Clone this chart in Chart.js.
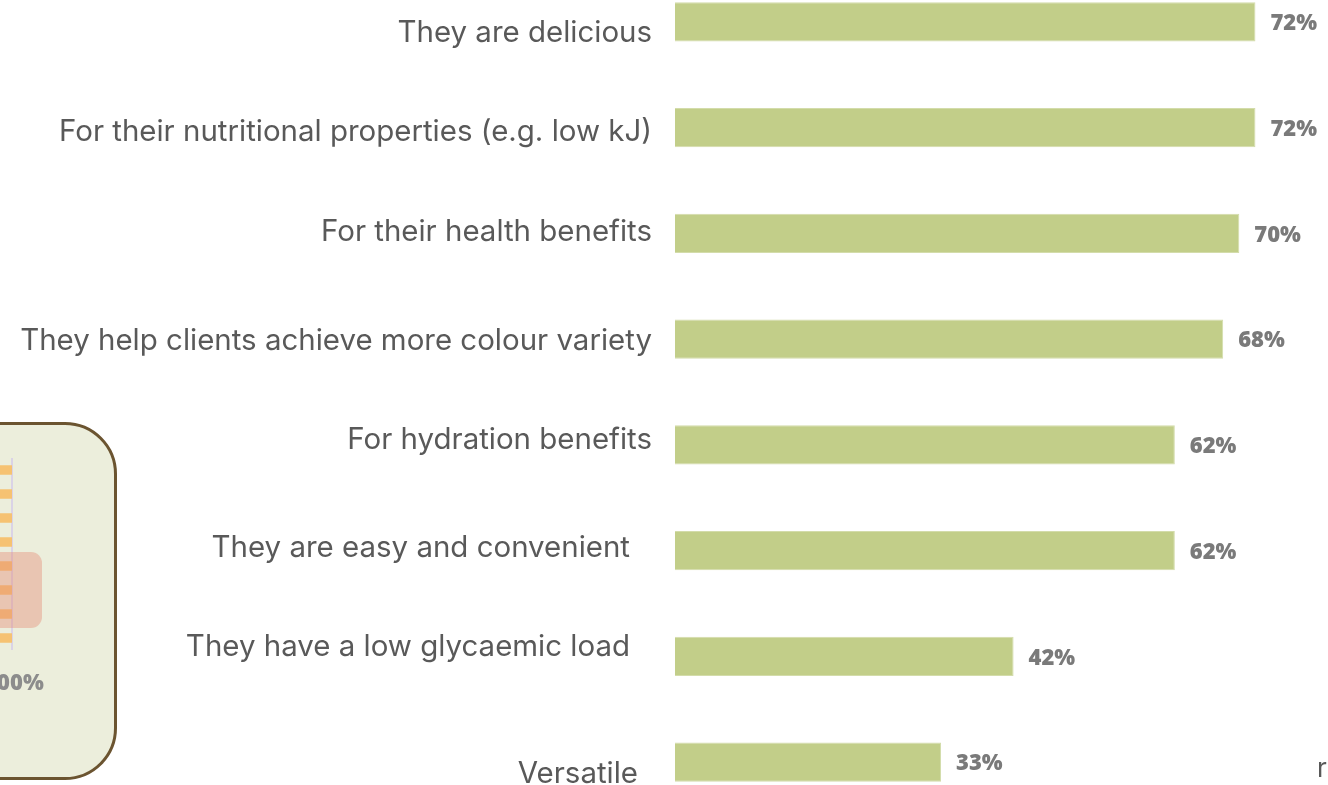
<!DOCTYPE html>
<html>
<head>
<meta charset="utf-8">
<script src="https://cdn.jsdelivr.net/npm/chart.js@4.4.1/dist/chart.umd.min.js"></script>
<style>
  html, body { margin: 0; padding: 0; width: 1328px; height: 785px; overflow: hidden; background: #fff; }
  #card {
    position: absolute; left: -60px; top: 422px; width: 171px; height: 352px;
    background: #ECEEDC; border: 3px solid #6B5430; border-radius: 52px;
  }
  #miniWrap { position: absolute; left: -220px; top: 440px; width: 280px; height: 270px; }
  #mainWrap { position: absolute; left: 0; top: -31px; width: 1328px; height: 846px; }
  #tail {
    position: absolute; left: 1317px; top: 752px;
    font: 400 26px Inter, sans-serif; color: #595959;
  }
</style>
</head>
<body>
<div id="card"></div>
<div id="miniWrap"><canvas id="miniChart"></canvas></div>
<div id="mainWrap"><canvas id="mainChart"></canvas></div>
<div id="tail">r</div>
<script>
// reasons given, % of respondents
const reasons = [
    'They are delicious',
    'For their nutritional properties (e.g. low kJ)',
    'For their health benefits',
    'They help clients achieve more colour variety',
    'For hydration benefits',
    'They are easy and convenient',
    'They have a low glycaemic load',
    'Versatile'
];
const shares = [72, 72, 70, 68, 62, 62, 42, 33];

// small stacked chart peeking out of the card on the left
const miniRows = ['1', '2', '3', '4', '5', '6', '7', '8'];
const miniTotals = [100, 100, 100, 100, 100, 100, 100, 100];
const miniTick = 100;

// label nudges (dx, dy) so the text sits like the original layout
const labelNudge = [[0, 8], [0, 1], [0, -4], [0, -1], [0, -8], [-22, -6], [-22, -12], [-14, 9]];

const labelColor = '#595959';
const valueColor = '#7A7A7A';

// fit the category font so the longest label spans ~632px
const probe = document.createElement('canvas').getContext('2d');
probe.font = '400 100px Inter';
const labelSize = 100 * 632 / probe.measureText(reasons[3]).width;

const categoryLabels = {
    id: 'categoryLabels',
    afterDraw(chart) {
        const { ctx, chartArea, scales: { y } } = chart;
        ctx.save();
        ctx.font = `400 ${labelSize}px Inter`;
        ctx.fillStyle = labelColor;
        ctx.textAlign = 'right';
        ctx.textBaseline = 'alphabetic';
        reasons.forEach((r, i) => {
            const [dx, dy] = labelNudge[i];
            ctx.fillText(r, chartArea.left - 23 + dx, y.getPixelForValue(i) + dy + 12);
        });
        ctx.restore();
    }
};

const valueLabels = {
    id: 'valueLabels',
    afterDatasetsDraw(chart) {
        const { ctx } = chart;
        const meta = chart.getDatasetMeta(0);
        ctx.save();
        ctx.font = '800 22px "Open Sans"';
        ctx.fillStyle = valueColor;
        ctx.textAlign = 'left';
        ctx.textBaseline = 'middle';
        meta.data.forEach((bar, i) => {
            ctx.fillText(shares[i] + '%', bar.x + 15, bar.y + 2);
        });
        ctx.restore();
    }
};

new Chart(document.getElementById('mainChart'), {
    type: 'bar',
    data: {
        labels: reasons,
        datasets: [{
            data: shares,
            backgroundColor: '#C2CE89',
            borderColor: '#D3DCAA',
            borderWidth: 1,
            borderSkipped: 'left',
            barPercentage: 0.37,
            categoryPercentage: 1
        }]
    },
    options: {
        indexAxis: 'y',
        animation: false,
        responsive: true,
        maintainAspectRatio: false,
        layout: { padding: { left: 675, right: 0, top: 0, bottom: 0 } },
        plugins: { legend: { display: false }, tooltip: { enabled: false } },
        scales: {
            x: { display: false, min: 0, max: 81 },
            y: { display: false }
        }
    },
    plugins: [categoryLabels, valueLabels]
});

const miniDecor = {
    id: 'miniDecor',
    afterDatasetsDraw(chart) {
        const { ctx, chartArea, scales: { x, y } } = chart;
        const right = x.getPixelForValue(miniTick);
        ctx.save();
        // highlight box over rows 5-7
        const top = y.getPixelForValue(4) - 14;
        const bottom = y.getPixelForValue(6) + 14;
        ctx.fillStyle = 'rgba(228, 140, 118, 0.42)';
        ctx.beginPath();
        ctx.roundRect(right - 120, top, 150, bottom - top, 11);
        ctx.fill();
        // axis label under the 100% line
        ctx.font = '800 22px "Open Sans"';
        ctx.fillStyle = '#8C8C8C';
        ctx.textAlign = 'center';
        ctx.textBaseline = 'middle';
        ctx.fillText(miniTick + '%', right + 2, chartArea.bottom + 34);
        ctx.restore();
    }
};

new Chart(document.getElementById('miniChart'), {
    type: 'bar',
    data: {
        labels: miniRows,
        datasets: [{
            data: miniTotals,
            backgroundColor: '#F6C272',
            barPercentage: 0.4,
            categoryPercentage: 1
        }]
    },
    options: {
        indexAxis: 'y',
        animation: false,
        responsive: true,
        maintainAspectRatio: false,
        layout: { padding: { left: 0, right: 48, top: 18, bottom: 60 } },
        plugins: { legend: { display: false }, tooltip: { enabled: false } },
        scales: {
            x: {
                min: 0, max: 100,
                ticks: { display: false, stepSize: 50 },
                border: { display: false },
                grid: {
                    drawTicks: false,
                    lineWidth: 2,
                    color: c => c.tick && c.tick.value === miniTick ? 'rgba(214, 204, 232, 0.8)' : 'transparent'
                }
            },
            y: { display: false }
        }
    },
    plugins: [miniDecor]
});
</script>
</body>
</html>
